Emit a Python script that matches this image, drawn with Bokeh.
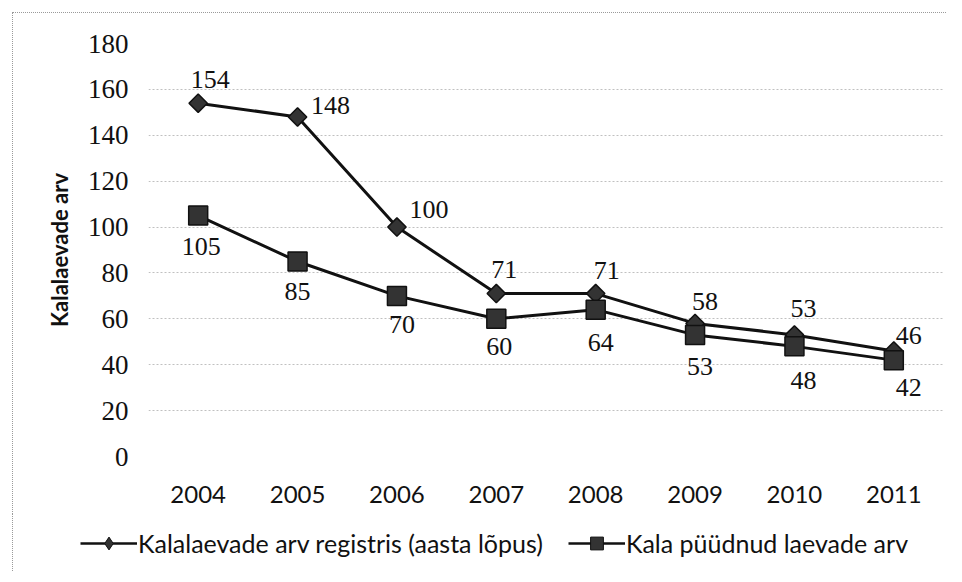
from bokeh.plotting import figure
from bokeh.models import ColumnDataSource, Legend, LegendItem, FactorRange, Range1d, LabelSet, SingleIntervalTicker, Spacer
from bokeh.layouts import row, column
from bokeh.core.properties import value
from bokeh.embed import file_html
from bokeh.resources import INLINE
import math

years = ["2004", "2005", "2006", "2007", "2008", "2009", "2010", "2011"]
registered = [154, 148, 100, 71, 71, 58, 53, 46]
fished = [105, 85, 70, 60, 64, 53, 48, 42]
series_names = ["Kalalaevade arv registris (aasta lõpus)", "Kala püüdnud laevade arv"]
y_title = "Kalalaevade arv"

# label placement (screen-pixel offsets)
reg_dx = [12, 33, 32, 8, 11, 10, 9, 15]
reg_dy = [24, 11, 18, 24, 23, 22, 26, 15]
fis_dx = [3, 0, 5, 3, 5, 5, 9, 15]
fis_dy = [-31, -30, -29, -28, -33, -32, -34, -27]

serif = "Liberation Serif"
sans = "Lato"
ink = "#111111"
border = "1px dotted #9a9a9a"

p = figure(width=934, height=502, x_range=FactorRange(*years), y_range=Range1d(0, 180),
           output_backend="svg", toolbar_location=None,
           min_border_left=135, min_border_right=4, min_border_top=30, min_border_bottom=59)
p.styles = {"border-top": border, "border-left": border}
p.outline_line_color = None
p.background_fill_color = "white"
p.border_fill_color = "white"

p.yaxis.ticker = SingleIntervalTicker(interval=20)
p.yaxis.axis_line_color = None
p.yaxis.major_tick_line_color = None
p.yaxis.minor_tick_line_color = None
p.yaxis.major_label_text_font = serif
p.yaxis.major_label_text_font_size = "27px"
p.yaxis.major_label_text_color = ink
p.yaxis.major_label_standoff = 14
p.yaxis.axis_label = y_title
p.yaxis.axis_label_text_font = sans
p.yaxis.axis_label_text_font_style = "bold"
p.yaxis.axis_label_text_font_size = "22px"
p.yaxis.axis_label_text_color = ink
p.yaxis.axis_label_standoff = 12

p.xaxis.axis_line_color = None
p.xaxis.major_tick_line_color = None
p.xaxis.major_label_text_font = sans
p.xaxis.major_label_text_font_size = "24px"
p.xaxis.major_label_text_color = ink
p.xaxis.major_label_standoff = 23

p.xgrid.grid_line_color = None
p.ygrid.grid_line_color = "#c0c0c0"
p.ygrid.grid_line_dash = "2 2"
p.ygrid.grid_line_width = 1

src = ColumnDataSource(dict(x=years, reg=registered, fis=fished,
                            reg_t=[str(v) for v in registered], fis_t=[str(v) for v in fished],
                            rdx=reg_dx, rdy=reg_dy, fdx=fis_dx, fdy=fis_dy))

line_kw = dict(line_color=ink, line_width=3)
dia_kw = dict(marker="square", size=13, angle=math.pi / 4, fill_color="#333333", line_color=ink, line_width=1.5)
sq_kw = dict(marker="square", size=19, fill_color="#333333", line_color=ink, line_width=1.5)

p.line("x", "reg", source=src, **line_kw)
p.scatter("x", "reg", source=src, **dia_kw)
p.line("x", "fis", source=src, **line_kw)
p.scatter("x", "fis", source=src, **sq_kw)

p.add_layout(LabelSet(x="x", y="reg", text="reg_t", source=src, x_offset="rdx", y_offset="rdy",
                      text_align="center", text_baseline="middle",
                      text_font=value(serif), text_font_size="26px", text_color=ink))
p.add_layout(LabelSet(x="x", y="fis", text="fis_t", source=src, x_offset="fdx", y_offset="fdy",
                      text_align="center", text_baseline="middle",
                      text_font=value(serif), text_font_size="26px", text_color=ink))

# legend strip below the chart: same series, drawn outside its visible y range
lg = figure(width=934, height=57, x_range=FactorRange(*years), y_range=Range1d(1000, 1001),
            x_axis_type=None, y_axis_type=None,
            output_backend="svg", toolbar_location=None,
            min_border_left=0, min_border_right=0, min_border_top=0, min_border_bottom=0)
lg.styles = {"border-left": border}
lg.grid.visible = False
lg.outline_line_color = None
g1 = lg.line("x", "reg", source=src, line_color=ink, line_width=2.5)
g2 = lg.scatter("x", "reg", source=src, marker="diamond", size=14,
                fill_color="#333333", line_color=ink, line_width=1)
g3 = lg.line("x", "fis", source=src, line_color=ink, line_width=2.5)
g4 = lg.scatter("x", "fis", source=src, marker="square", size=16,
                fill_color="#333333", line_color=ink, line_width=1)
legend = Legend(items=[LegendItem(label=series_names[0], renderers=[g1, g2], index=0),
                       LegendItem(label=series_names[1], renderers=[g3, g4], index=0)],
                orientation="horizontal", location=(67, 12),
                label_text_font=sans, label_text_font_size="25px", label_text_color=ink,
                glyph_width=57, glyph_height=32, spacing=25, label_standoff=1,
                background_fill_alpha=0, border_line_color=None, padding=0, margin=0)
lg.add_layout(legend, "center")

layout = column(Spacer(height=12), row(Spacer(width=12), p), row(Spacer(width=12), lg))
open("out.html", "w").write(file_html(layout, INLINE))
